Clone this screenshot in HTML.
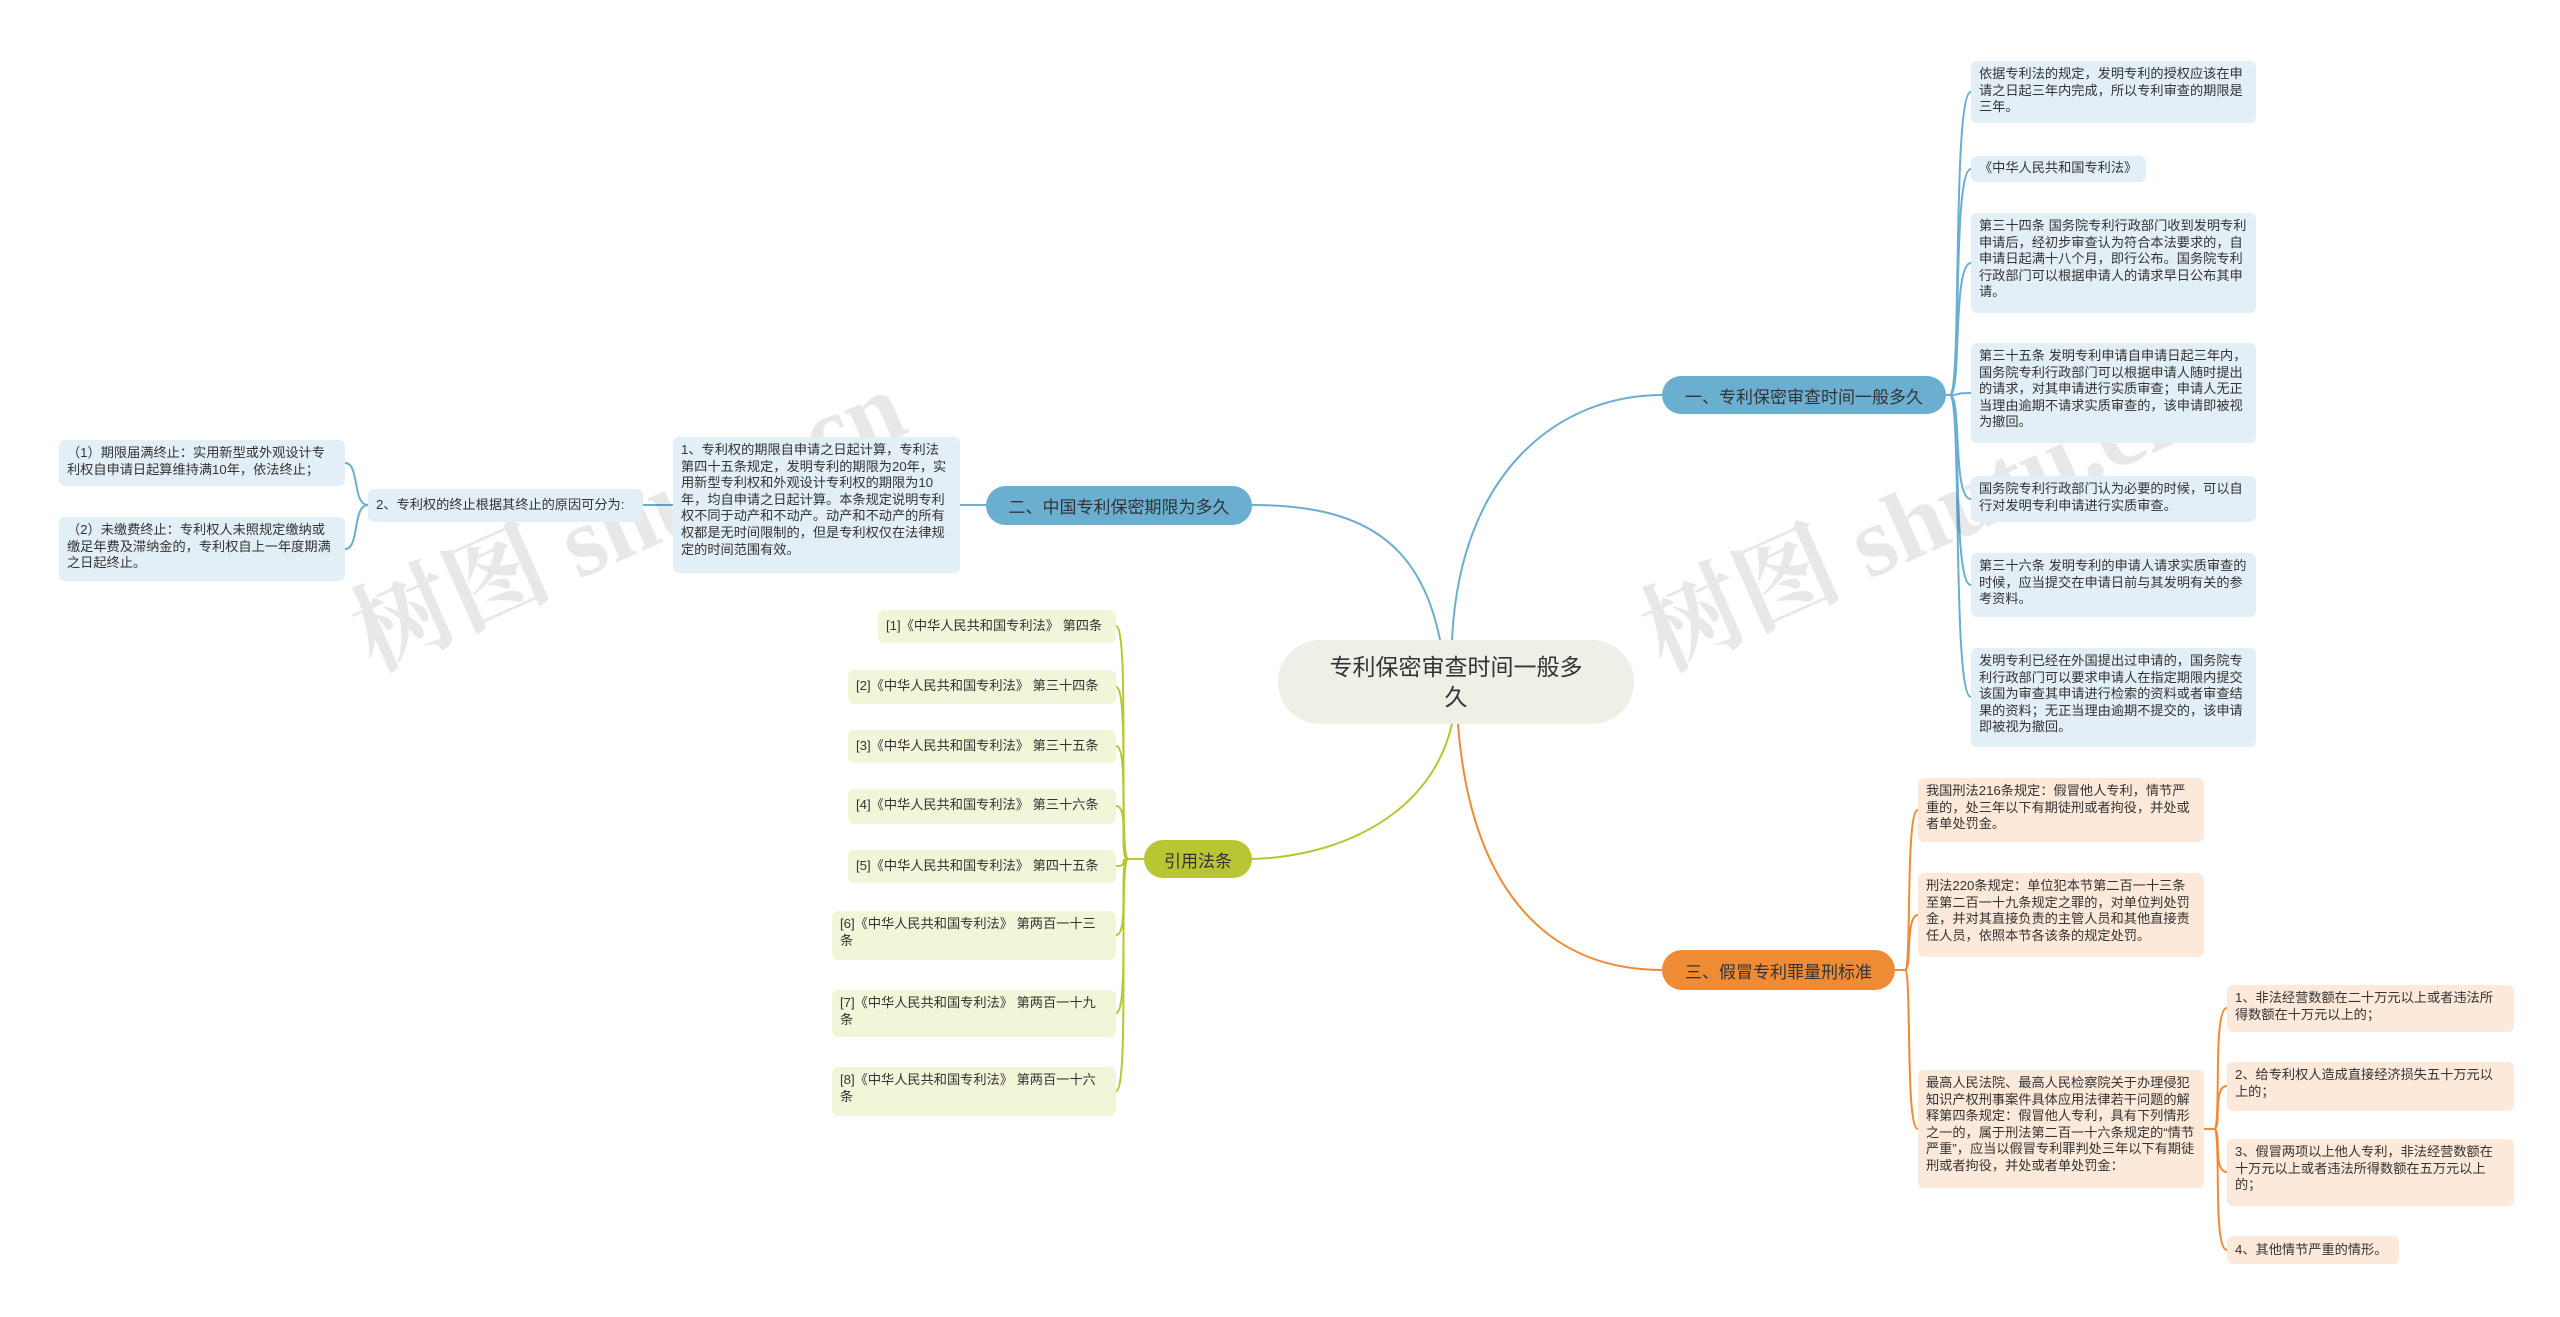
<!DOCTYPE html>
<html><head><meta charset="utf-8"><style>
*{margin:0;padding:0;box-sizing:border-box}
body{width:2560px;height:1317px;background:#fff;position:relative;overflow:hidden;font-family:"Liberation Sans","Noto Sans CJK SC",sans-serif;color:#333}
.n{position:absolute;border-radius:6px;font-size:13.2px;line-height:16.6px;padding:5px 8px;word-break:break-all}
.b{background:#e3eff7}
.o{background:#fde9da}
.g{background:#f3f5d9}
.br{position:absolute;border-radius:20px;display:flex;align-items:center;justify-content:center;font-size:17px;color:#333}
.wm{position:absolute;font-family:"Liberation Serif","Noto Serif CJK SC",serif;font-size:100px;color:rgba(0,0,0,0.09);transform:rotate(-24deg);white-space:nowrap;font-weight:bold}
svg{position:absolute;left:0;top:0}
</style></head><body>
<svg width="2560" height="1317" fill="none" stroke-width="2">
<g stroke="#6aaed0">
<path d="M1452 640 C1460 470,1560 395,1662 395"/>
<path d="M1440 640 C1420 540,1360 505,1252 505"/>
<path d="M1946 395 H1950"/>
<path d="M1950 395 C1962 395,1952 92,1971 92"/>
<path d="M1950 395 C1962 395,1952 169,1971 169"/>
<path d="M1950 395 C1962 395,1952 263,1971 263"/>
<path d="M1950 395 C1962 395,1952 393,1971 393"/>
<path d="M1950 395 C1962 395,1952 499,1971 499"/>
<path d="M1950 395 C1962 395,1952 585,1971 585"/>
<path d="M1950 395 C1962 395,1952 697,1971 697"/>
<path d="M986 505 H960"/>
<path d="M673 505 H643"/>
<path d="M368 505 C352 505,360 463,345 463"/>
<path d="M368 505 C352 505,360 549,345 549"/>
</g>
<g stroke="#b8c634">
<path d="M1452 724 C1430 820,1330 859,1246 859"/>
<path d="M1144 859 H1128"/>
<path d="M1128 859 C1118 859,1130 626,1116 626"/>
<path d="M1128 859 C1118 859,1130 687,1116 687"/>
<path d="M1128 859 C1118 859,1130 746,1116 746"/>
<path d="M1128 859 C1118 859,1130 806,1116 806"/>
<path d="M1128 859 C1118 859,1130 866,1116 866"/>
<path d="M1128 859 C1118 859,1130 935,1116 935"/>
<path d="M1128 859 C1118 859,1130 1013,1116 1013"/>
<path d="M1128 859 C1118 859,1130 1091,1116 1091"/>
</g>
<g stroke="#ef8a35">
<path d="M1458 724 C1470 880,1540 970,1662 970"/>
<path d="M1895 970 H1905"/>
<path d="M1905 970 C1912 970,1905 810,1918 810"/>
<path d="M1905 970 C1912 970,1905 915,1918 915"/>
<path d="M1905 970 C1912 970,1905 1129,1918 1129"/>
<path d="M2204 1129 H2214"/>
<path d="M2214 1129 C2222 1129,2212 1008,2227 1008"/>
<path d="M2214 1129 C2222 1129,2212 1086,2227 1086"/>
<path d="M2214 1129 C2222 1129,2212 1172,2227 1172"/>
<path d="M2214 1129 C2222 1129,2212 1250,2227 1250"/>
</g>
</svg>

<div class="wm" style="left:330px;top:440px">树图 shutu.cn</div>
<div class="wm" style="left:1620px;top:440px">树图 shutu.cn</div>

<div class="br" style="left:1278px;top:640px;width:356px;height:84px;background:#efefe7;border-radius:42px;font-size:23px;line-height:30px;text-align:center;padding:0 50px">专利保密审查时间一般多久</div>

<div class="br" style="left:1662px;top:376px;width:284px;height:38px;background:#6aaed0">一、专利保密审查时间一般多久</div>
<div class="br" style="left:986px;top:486px;width:266px;height:39px;background:#6aaed0">二、中国专利保密期限为多久</div>
<div class="br" style="left:1144px;top:840px;width:108px;height:38px;background:#b8c634">引用法条</div>
<div class="br" style="left:1662px;top:950px;width:233px;height:40px;background:#ef8a35">三、假冒专利罪量刑标准</div>

<div class="n b" style="left:1971px;top:61px;width:285px;height:62px">依据专利法的规定，发明专利的授权应该在申请之日起三年内完成，所以专利审查的期限是三年。</div>
<div class="n b" style="left:1971px;top:156px;width:175px;height:26px;padding-top:4px">《中华人民共和国专利法》</div>
<div class="n b" style="left:1971px;top:213px;width:285px;height:100px">第三十四条 国务院专利行政部门收到发明专利申请后，经初步审查认为符合本法要求的，自申请日起满十八个月，即行公布。国务院专利行政部门可以根据申请人的请求早日公布其申请。</div>
<div class="n b" style="left:1971px;top:343px;width:285px;height:100px">第三十五条 发明专利申请自申请日起三年内，国务院专利行政部门可以根据申请人随时提出的请求，对其申请进行实质审查；申请人无正当理由逾期不请求实质审查的，该申请即被视为撤回。</div>
<div class="n b" style="left:1971px;top:476px;width:285px;height:46px">国务院专利行政部门认为必要的时候，可以自行对发明专利申请进行实质审查。</div>
<div class="n b" style="left:1971px;top:553px;width:285px;height:64px">第三十六条 发明专利的申请人请求实质审查的时候，应当提交在申请日前与其发明有关的参考资料。</div>
<div class="n b" style="left:1971px;top:648px;width:285px;height:99px">发明专利已经在外国提出过申请的，国务院专利行政部门可以要求申请人在指定期限内提交该国为审查其申请进行检索的资料或者审查结果的资料；无正当理由逾期不提交的，该申请即被视为撤回。</div>

<div class="n b" style="left:59px;top:440px;width:286px;height:46px">（1）期限届满终止：实用新型或外观设计专利权自申请日起算维持满10年，依法终止；</div>
<div class="n b" style="left:59px;top:517px;width:286px;height:64px">（2）未缴费终止：专利权人未照规定缴纳或缴足年费及滞纳金的，专利权自上一年度期满之日起终止。</div>
<div class="n b" style="left:368px;top:489px;width:275px;height:33px;padding-top:8px">2、专利权的终止根据其终止的原因可分为:</div>
<div class="n b" style="left:673px;top:437px;width:287px;height:136px">1、专利权的期限自申请之日起计算，专利法第四十五条规定，发明专利的期限为20年，实用新型专利权和外观设计专利权的期限为10年，均自申请之日起计算。本条规定说明专利权不同于动产和不动产。动产和不动产的所有权都是无时间限制的，但是专利权仅在法律规定的时间范围有效。</div>

<div class="n g" style="left:878px;top:610px;width:238px;height:33px;padding-top:8px">[1]《中华人民共和国专利法》 第四条</div>
<div class="n g" style="left:848px;top:670px;width:268px;height:34px;padding-top:8px">[2]《中华人民共和国专利法》 第三十四条</div>
<div class="n g" style="left:848px;top:730px;width:268px;height:33px;padding-top:8px">[3]《中华人民共和国专利法》 第三十五条</div>
<div class="n g" style="left:848px;top:789px;width:268px;height:35px;padding-top:8px">[4]《中华人民共和国专利法》 第三十六条</div>
<div class="n g" style="left:848px;top:850px;width:268px;height:33px;padding-top:8px">[5]《中华人民共和国专利法》 第四十五条</div>
<div class="n g" style="left:832px;top:911px;width:284px;height:49px;padding-right:20px">[6]《中华人民共和国专利法》 第两百一十三条</div>
<div class="n g" style="left:832px;top:990px;width:284px;height:47px;padding-right:20px">[7]《中华人民共和国专利法》 第两百一十九条</div>
<div class="n g" style="left:832px;top:1067px;width:284px;height:49px;padding-right:20px">[8]《中华人民共和国专利法》 第两百一十六条</div>

<div class="n o" style="left:1918px;top:778px;width:286px;height:64px">我国刑法216条规定：假冒他人专利，情节严重的，处三年以下有期徒刑或者拘役，并处或者单处罚金。</div>
<div class="n o" style="left:1918px;top:873px;width:286px;height:84px">刑法220条规定：单位犯本节第二百一十三条至第二百一十九条规定之罪的，对单位判处罚金，并对其直接负责的主管人员和其他直接责任人员，依照本节各该条的规定处罚。</div>
<div class="n o" style="left:1918px;top:1070px;width:286px;height:118px">最高人民法院、最高人民检察院关于办理侵犯知识产权刑事案件具体应用法律若干问题的解释第四条规定：假冒他人专利，具有下列情形之一的，属于刑法第二百一十六条规定的“情节严重”，应当以假冒专利罪判处三年以下有期徒刑或者拘役，并处或者单处罚金：</div>
<div class="n o" style="left:2227px;top:985px;width:287px;height:47px">1、非法经营数额在二十万元以上或者违法所得数额在十万元以上的；</div>
<div class="n o" style="left:2227px;top:1062px;width:287px;height:49px">2、给专利权人造成直接经济损失五十万元以上的；</div>
<div class="n o" style="left:2227px;top:1139px;width:287px;height:67px">3、假冒两项以上他人专利，非法经营数额在十万元以上或者违法所得数额在五万元以上的；</div>
<div class="n o" style="left:2227px;top:1236px;width:172px;height:28px;padding-top:6px">4、其他情节严重的情形。</div>
</body></html>
